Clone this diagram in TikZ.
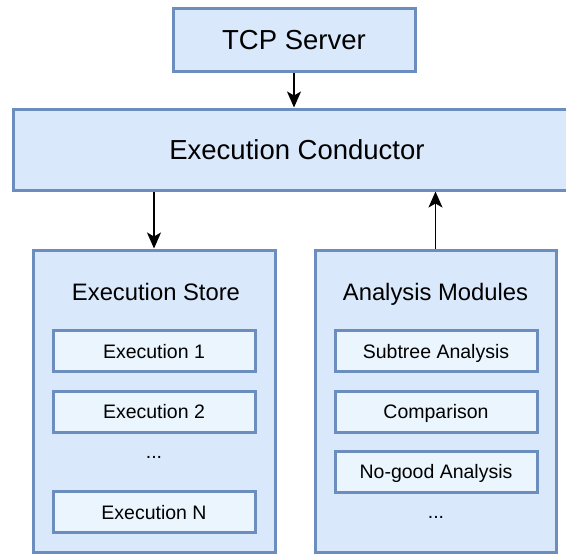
\documentclass[tikz,border=0pt]{standalone}
\usepackage{fontspec}
\setmainfont{Liberation Sans}
\usetikzlibrary{positioning, arrows.meta}
\definecolor{boxfill}{HTML}{DAE8FC}
\definecolor{boxline}{HTML}{6C8EBF}
\definecolor{itemfill}{HTML}{EAF5FD}

\begin{document}
\begin{tikzpicture}[
        x=1pt, y=-1pt,
        block/.style={rectangle, draw=boxline, fill=boxfill, line width=3pt, inner sep=0pt,
            text height=19.8pt, text depth=0pt, font=\fontsize{27.5}{31}\selectfont},
        item/.style={rectangle, draw=boxline, fill=itemfill, line width=3pt, inner sep=0pt,
            minimum width=202pt, minimum height=41pt, text height=14pt, text depth=0pt,
            font=\fontsize{19.5}{23}\selectfont},
        title/.style={anchor=base, font=\fontsize{23.8}{27}\selectfont},
        dots/.style={font=\fontsize{19.5}{23}\selectfont, inner sep=0pt},
        flow/.style={-{Stealth[length=16pt, width=14pt, inset=4pt]}, line width=1.5pt}
    ]
    \useasboundingbox (0,0) rectangle (566,554);
    \clip (0,0) rectangle (566,554);

    % top blocks
    \node[block, minimum width=242pt, minimum height=63pt] (tcp) at (294,39.5) {TCP Server};
    \node[block, minimum width=568pt, minimum height=81pt] (conductor) at (297,149.5) {Execution Conductor};

    % lower containers
    \node[block, minimum width=242pt, minimum height=302pt] (store) at (154,401) {};
    \node[block, minimum width=241pt, minimum height=302pt] (modules) at (435.5,401) {};
    \node[title] (storetitle) at (156,300) {Execution Store};
    \node[title] (modtitle) at (435.5,300) {Analysis Modules};

    \foreach \name/\y/\txt in {exec1/351/Execution 1, exec2/411.5/Execution 2, execN/512/Execution N} {
        \node[item] (\name) at (154,\y) {\txt};
    }
    \foreach \name/\y/\txt in {subtree/351/Subtree Analysis, compare/411.5/Comparison, nogood/471.5/No-good Analysis} {
        \node[item] (\name) at (436,\y) {\txt};
    }
    \node[dots] (storedots) at (154,457) {...};
    \node[dots] (moddots) at (436,517) {...};

    % connectors
    \draw[flow] (tcp.south) -- (tcp.south |- conductor.north);
    \draw[flow] (conductor.south -| store.north) -- (store.north);
    \draw[flow] (modules.north) -- (modules.north |- conductor.south);
\end{tikzpicture}
\end{document}
